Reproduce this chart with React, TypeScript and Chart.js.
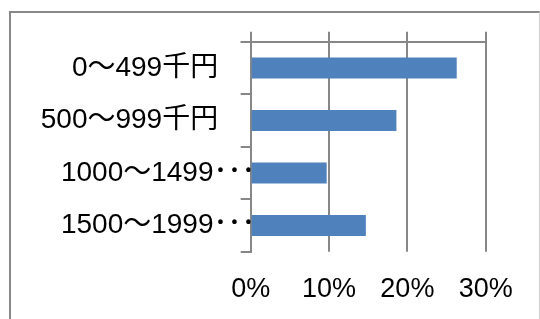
import { useEffect, useRef } from 'react';
import { Chart, registerables } from 'chart.js';

Chart.register(...registerables);

const categories = ['0～499千円', '500～999千円', '1000～1499･･･', '1500～1999･･･'];
const shares = [26.3, 18.6, 9.7, 14.7];
const valueTicks = [0, 10, 20, 30];

const FONT = '"Liberation Sans", "Noto Sans CJK JP", sans-serif';
const GRAY = '#878787';
const SPACER = '\u3000\u2006\u2006';

const topAxisLine = {
  id: 'topAxisLine',
  afterDraw(chart: any) {
    const { ctx, chartArea } = chart;
    const yScale = chart.scales.y;
    const tick = yScale.options.grid.tickLength;
    ctx.save();
    ctx.strokeStyle = GRAY;
    ctx.lineWidth = 2;
    ctx.beginPath();
    const y = Math.round(chartArea.top);
    ctx.moveTo(chartArea.left - tick, y);
    ctx.lineTo(chartArea.right + 1, y);
    ctx.stroke();
    ctx.restore();
  },
};

export default function App() {
  const ref = useRef<HTMLCanvasElement | null>(null);

  useEffect(() => {
    if (!ref.current) return;
    const chart = new Chart(ref.current, {
      type: 'bar',
      data: {
        labels: categories,
        datasets: [
          {
            data: shares,
            backgroundColor: '#4f81bd',
            borderWidth: 0,
            categoryPercentage: 1,
            barPercentage: 0.4,
            xAxisID: 'x',
          },
        ],
      },
      options: {
        indexAxis: 'y',
        responsive: false,
        animation: false,
        events: [],
        layout: { padding: { left: 0, right: 54.3, top: 31.7, bottom: 0 } },
        plugins: { legend: { display: false }, tooltip: { enabled: false } },
        scales: {
          x: {
            type: 'linear',
            position: 'top',
            min: valueTicks[0],
            max: valueTicks[valueTicks.length - 1],
            ticks: { display: false, stepSize: 10 },
            grid: { color: GRAY, lineWidth: 2, tickLength: 10, drawTicks: true },
            border: { display: true, color: GRAY, width: 2 },
            afterFit: (s: any) => {
              s.height = 10;
            },
          },
          x2: {
            type: 'linear',
            axis: 'x',
            position: 'bottom',
            min: valueTicks[0],
            max: valueTicks[valueTicks.length - 1],
            ticks: {
              stepSize: 10,
              padding: 22,
              color: '#000',
              font: { size: 27, family: FONT },
              callback: (v: any) => v + '%',
            },
            grid: { display: false, drawTicks: false },
            border: { display: false },
            afterFit: (s: any) => {
              s.height = 67.3;
            },
          },
          y: {
            type: 'category',
            position: 'left',
            ticks: {
              padding: -14.8,
              color: '#000',
              font: { size: 28, family: FONT },
              callback: (_v: any, i: number) => {
                const l = categories[i];
                return l.endsWith('･･･') ? l : l + SPACER;
              },
            },
            grid: { drawOnChartArea: false, color: GRAY, lineWidth: 2, tickLength: 10, offset: true },
            border: { display: true, color: GRAY, width: 2 },
            afterFit: (s: any) => {
              s.width = 250.7;
            },
          },
        },
      },
      plugins: [topAxisLine],
    });
    return () => chart.destroy();
  }, []);

  return (
    <>
      <div
        style={{
          position: 'absolute',
          left: 9,
          top: 11,
          width: 531,
          height: 308,
          boxSizing: 'border-box',
          borderTop: '2px solid #898989',
          borderLeft: '2px solid #898989',
          borderRight: '1px solid #cfcfcf',
        }}
      />
      <div style={{ position: 'absolute', left: 0, top: 0, width: 540, height: 319 }}>
        <canvas ref={ref} width={540} height={319} style={{ width: 540, height: 319, display: 'block' }} />
      </div>
    </>
  );
}
